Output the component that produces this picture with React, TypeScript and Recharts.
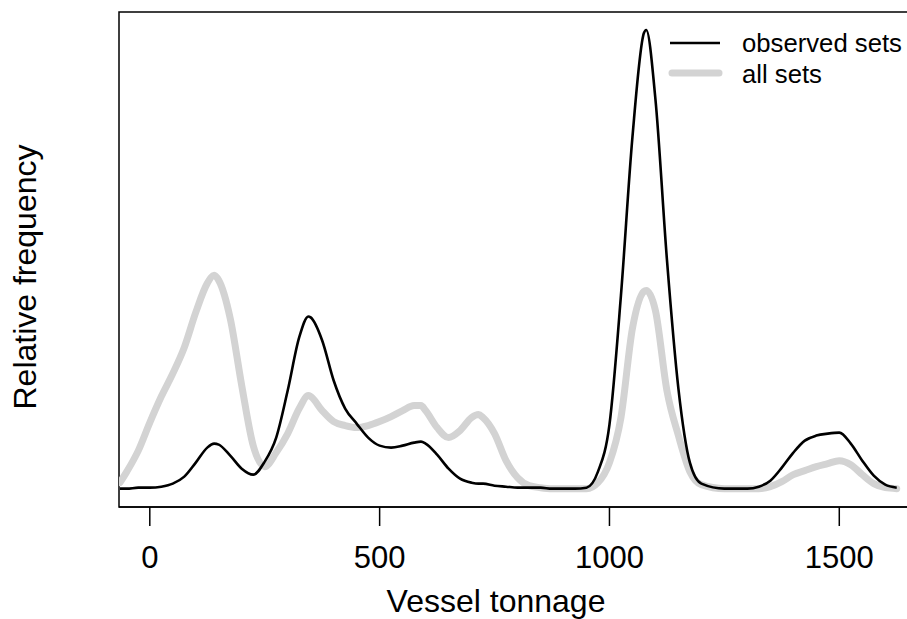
import { LineChart, Line, XAxis, YAxis, Customized } from 'recharts'

const FONT = '"Liberation Sans", Arial, sans-serif'

// tonnage grid (x)
const tonnage = [
  -65, -50, -25, 0, 25, 50, 75, 100, 125, 140, 150, 175, 200, 225, 250, 275, 300, 325, 345, 350,
  375, 400, 425, 450, 475, 500, 525, 550, 575, 590, 600, 625, 650, 675, 700, 715, 725, 750, 775, 800,
  825, 850, 875, 900, 925, 950, 975, 1000, 1025, 1050, 1075, 1080, 1100, 1125, 1150, 1175, 1200, 1250,
  1300, 1325, 1350, 1375, 1400, 1425, 1450, 1475, 1500, 1525, 1550, 1575, 1600, 1625,
]

// black line
const observedSets = [
  0.0, 0.0, 0.01, 0.01, 0.02, 0.05, 0.12, 0.26, 0.41, 0.45, 0.44, 0.33, 0.2, 0.14, 0.27, 0.51, 0.98, 1.51, 1.72, 1.71,
  1.48, 1.08, 0.8, 0.65, 0.51, 0.43, 0.41, 0.43, 0.46, 0.47, 0.45, 0.34, 0.2, 0.1, 0.06, 0.05, 0.05, 0.03, 0.02, 0.01,
  0.01, 0.01, 0.0, 0.0, 0.0, 0.01, 0.17, 0.64, 1.93, 3.51, 4.55, 4.58, 3.89, 2.29, 1.0, 0.26, 0.05, 0.0,
  0.0, 0.02, 0.08, 0.21, 0.36, 0.48, 0.53, 0.55, 0.56, 0.45, 0.28, 0.13, 0.04, 0.01,
]

// grey line
const allSets = [
  0.06, 0.17, 0.38, 0.66, 0.92, 1.15, 1.41, 1.76, 2.05, 2.13, 2.08, 1.7, 1.03, 0.43, 0.22, 0.36, 0.55, 0.8, 0.93, 0.92,
  0.78, 0.67, 0.63, 0.61, 0.63, 0.67, 0.72, 0.78, 0.83, 0.83, 0.78, 0.61, 0.51, 0.58, 0.71, 0.74, 0.71, 0.55, 0.28, 0.11,
  0.03, 0.01, 0.0, 0.0, 0.0, 0.0, 0.06, 0.26, 0.71, 1.6, 1.97, 1.98, 1.78, 0.98, 0.53, 0.17, 0.04, 0.0,
  0.0, 0.0, 0.02, 0.07, 0.14, 0.18, 0.22, 0.25, 0.28, 0.24, 0.14, 0.05, 0.01, 0.0,
]

const xTicks = [0, 500, 1000, 1500]

const rows = tonnage.map((t, i) => ({ tonnage: t, observed: observedSets[i], all: allSets[i] }))

// frame, axis titles and legend
const Overlay = () => (
  <g fontFamily={FONT} fill="#000">
    <rect x={119} y={12} width={809} height={495} fill="none" stroke="#000" strokeWidth={1.5} />
    <text x={496} y={612} fontSize={32} textAnchor="middle">Vessel tonnage</text>
    <text transform="translate(36 277) rotate(-90)" fontSize={32} textAnchor="middle">Relative frequency</text>
    <line x1={670} y1={43} x2={720} y2={43} stroke="#000" strokeWidth={2.5} />
    <line x1={672} y1={73} x2={719} y2={73} stroke="#d3d3d3" strokeWidth={7} strokeLinecap="round" />
    <text x={742} y={52} fontSize={25.7}>observed sets</text>
    <text x={742} y={83} fontSize={25.7}>all sets</text>
  </g>
)

export default function App() {
  return (
    <div style={{ position: 'absolute', left: 0, top: 0, width: 907, height: 619, overflow: 'hidden', background: '#fff' }}>
      <LineChart width={940} height={619} data={rows} margin={{ top: 12, right: 12, bottom: 0, left: 119 }}>
        <XAxis
          type="number"
          dataKey="tonnage"
          domain={[-67, 1693]}
          ticks={xTicks}
          allowDataOverflow
          height={112}
          tickSize={19}
          tickMargin={20}
          axisLine={{ stroke: '#000', strokeWidth: 1.5 }}
          tickLine={{ stroke: '#000', strokeWidth: 1.5 }}
          tick={{ fontSize: 31, fill: '#000', fontFamily: FONT }}
        />
        <YAxis hide domain={[-0.183, 4.76]} allowDataOverflow />
        <Line type="monotone" dataKey="all" stroke="#d3d3d3" strokeWidth={7} strokeLinecap="round" dot={false} isAnimationActive={false} />
        <Line type="monotone" dataKey="observed" stroke="#000" strokeWidth={2.6} dot={false} isAnimationActive={false} />
        <Customized component={Overlay} />
      </LineChart>
    </div>
  )
}
